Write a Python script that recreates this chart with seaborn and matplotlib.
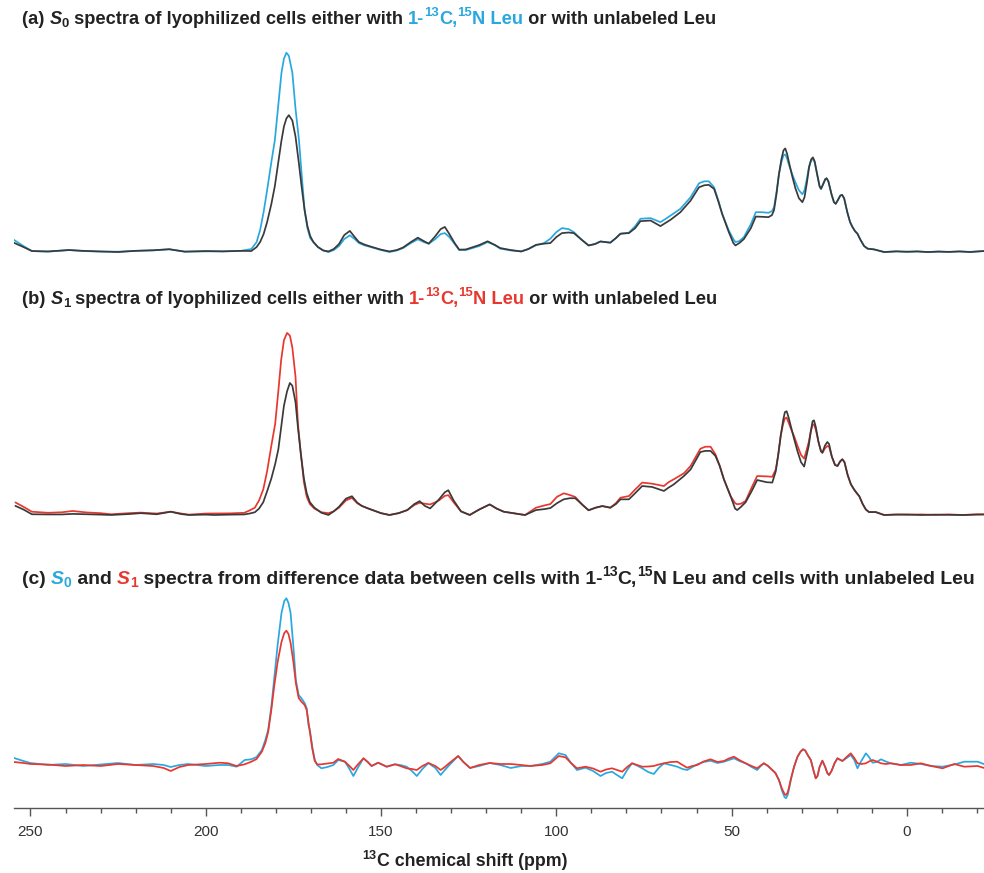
import numpy as np
import pandas as pd
import matplotlib
matplotlib.use("Agg")
import matplotlib.pyplot as plt
import seaborn as sns
from matplotlib import font_manager
from matplotlib.ticker import MultipleLocator

# ---------------- data ----------------
# Panel (a): S0 spectra, 1-13C,15N Leu (blue) vs unlabeled Leu (black); relative intensity
ppm_a = [254.8, 252, 249.6, 245, 239, 235, 230, 225, 220, 215,
         210.4, 206, 200, 195, 190, 187, 185.5, 184.5, 183.5, 182.5,
         181.3, 180.3, 179.3, 178.4, 177.7, 177.0, 176.3, 175.3, 174.4, 173.4,
         172.6, 171.8, 171.0, 170.2, 169.3, 168, 166.5, 165, 163.5, 162,
         160.5, 158.9, 157.5, 156.3, 154.8, 152.9, 150, 147.6, 145.5, 143.7,
         141.5, 139.5, 137.8, 136.4, 134.5, 133, 131.8, 130.5, 129, 127.7,
         125.8, 122, 119.6, 117.5, 116, 113, 110, 108, 105.8, 103.5,
         101.7, 100, 98.4, 96.5, 95, 93, 90.8, 89, 87.4, 84.6,
         83, 81.7, 79.3, 77.5, 76, 73.1, 70.3, 68.5, 67.4, 64.6,
         61.7, 59.3, 57.8, 56.5, 55, 53.8, 52.7, 50.8, 49.5, 48.9,
         47.8, 46.5, 44.5, 43.1, 41.5, 39.5, 38.5, 37.9, 37.2, 36.5,
         35.8, 35.2, 34.7, 34.2, 33.5, 32.7, 31.8, 30.8, 29.8, 29.2,
         28.5, 27.9, 27.3, 26.8, 26.3, 25.6, 24.9, 24.5, 23.9, 23.3,
         22.9, 22.4, 21.5, 20.8, 20.3, 19.7, 19, 18.5, 17.9, 17,
         16.2, 15.5, 14.8, 14.1, 13.2, 12.2, 11.2, 9.3, 6.5, 3,
         0, -3, -6, -9, -12, -15, -18, -22]
s0_lab_a = [6.2, 3, 0.5, 0.2, 1.0, 0.5, 0.2, 0.2, 0.6, 0.8,
            1.4, 0.2, 0.3, 0.4, 0.6, 1.5, 5, 11, 20, 31,
            45, 56, 74, 90, 97, 100, 98.5, 90, 72, 56,
            38, 21, 12, 7, 5, 2.5, 0.8, 0, 1, 3,
            6.5, 8.4, 6.5, 4.5, 3.4, 2.5, 1, 0, 0.8, 2,
            4.5, 6.4, 5, 4.2, 6.5, 9, 9.5, 7.5, 4, 1,
            1, 3, 5, 3.5, 1.7, 0.8, 0.3, 1.5, 3.4, 4.5,
            6.7, 10, 12, 11.5, 10, 6.5, 3.3, 4, 5.3, 4.7,
            7, 9.2, 9.7, 13, 16.7, 17, 15, 17, 18.3, 21.7,
            27.5, 34.5, 35.5, 35.5, 32.5, 26, 19.2, 10.8, 6.5, 5,
            5.5, 7.5, 14, 20, 20, 19.7, 20.5, 22.5, 30, 39,
            45, 48.5, 49, 47, 43, 39, 35, 31, 29, 31,
            37, 43, 46, 46.7, 45, 39, 33, 31.7, 34, 36.5,
            37, 35.5, 29, 25, 24.2, 26, 28.3, 28.7, 27, 20,
            15, 12.5, 10.5, 9.2, 6, 3, 1.7, 1.3, 0, 0.4,
            0, 0.3, 0, 0.3, 0, 0.3, 0.1, 0.5]
s0_unl_a = [4.7, 2.5, 0.5, 0.3, 1.0, 0.6, 0.3, 0.0, 0.6, 0.9,
            1.4, 0.2, 0.5, 0.3, 0.6, 0.5, 2.5, 5, 9, 15,
            24, 33, 45, 56, 63, 67, 68.7, 66, 58, 44,
            32, 21, 13, 8, 5, 2.5, 0.8, 0.3, 1.5, 4,
            8.5, 10.6, 7.5, 5, 3.8, 2.7, 1.2, 0.3, 1, 2.3,
            5, 7.2, 5.5, 4.2, 8, 11.5, 12.6, 9, 4.5, 1.2,
            1.3, 3.5, 5.4, 3.5, 2, 1, 0.3, 1.5, 3.6, 4.2,
            4.5, 7.5, 9.5, 9.8, 9.5, 6.5, 3.3, 4, 5.3, 4.7,
            7, 9.2, 9.5, 12, 15.5, 15.8, 13, 15, 16.2, 20,
            25.8, 32.5, 33.5, 33.7, 31.7, 25.5, 19.2, 10, 4.5, 3.3,
            4.5, 6.5, 12, 17.8, 17.7, 17.5, 18.5, 21, 29, 39,
            46.5, 51, 52, 49.5, 44, 38, 32, 27, 25, 27.5,
            35, 42.5, 46.5, 47.5, 45.5, 39, 33, 31.7, 34, 36.5,
            37, 35.5, 29, 25, 24.2, 26, 28.3, 28.7, 27, 20,
            15, 12.5, 10.5, 9.2, 6, 3, 1.7, 1.3, 0, 0.3,
            0.2, 0.3, 0, 0.2, 0.1, 0.3, 0, 0.5]

# Panel (b): S1 spectra, 1-13C,15N Leu (red) vs unlabeled Leu (black)
ppm_b = [254.3, 252, 249.6, 245, 241, 238, 234, 230, 227, 222,
         218.5, 214, 210, 207, 204.8, 200, 197.6, 193, 189, 187.5,
         186, 184.8, 183.6, 182.5, 181.3, 180.2, 179.3, 178.5, 177.7, 176.8,
         176.0, 175.3, 174.4, 173.7, 172.9, 172, 171.2, 170.3, 169, 167,
         165, 163.5, 162, 160, 158.3, 156.8, 155.5, 153.7, 150, 147.6,
         145, 142.5, 140.5, 139, 137.5, 136, 134.5, 133.5, 131.8, 130.8,
         129.3, 127.2, 124.7, 122, 119, 117, 115, 110, 108.9, 105.8,
         103.5, 101.7, 99.8, 97.9, 96.2, 94.6, 92.5, 90.8, 88.8, 86.9,
         84.6, 83, 81.7, 79.3, 77.5, 75.5, 72.7, 69.3, 68, 66.5,
         63.6, 61.7, 58.9, 57.5, 56, 54.6, 53.4, 52.2, 50.3, 49,
         48.4, 47.3, 46, 44.3, 42.7, 40, 38.4, 37.4, 36.7, 36,
         35.3, 34.8, 34.3, 33.8, 33, 32.2, 31.2, 30.2, 29.3, 28.7,
         28, 27.4, 26.9, 26.5, 26, 25.2, 24.5, 24.1, 23.4, 22.7,
         22.2, 21.4, 20.5, 19.8, 19, 18.4, 17.8, 16.9, 16, 15.1,
         14.3, 13.6, 12.6, 11.7, 10.8, 8.9, 6.5, 3, 0, -4,
         -8, -12, -16, -20, -22]
s1_lab_b = [6.9, 4.5, 1.8, 1.2, 1.5, 2.2, 1.4, 1.0, 0.4, 1.0,
            1.3, 0.8, 1.8, 0.8, 0.2, 0.8, 0.8, 0.9, 1.2, 2.5,
            4, 8, 14, 24, 38, 50, 68, 85, 96, 100,
            98.5, 92, 76, 50, 34, 18, 10, 6, 3.5, 1.5,
            1, 2, 4, 8, 9.4, 6.5, 5, 3.6, 1, 0,
            1, 2.7, 5.5, 6.7, 6.2, 5.8, 7, 8, 10.5, 10.9,
            7, 2, 0, 3, 5.8, 3.5, 1.8, 0.3, 0, 4,
            5.2, 6, 10, 11.9, 11, 9.9, 5.5, 2.6, 4, 4.9,
            4, 6.5, 9.5, 10.4, 14, 17.8, 17.2, 15.9, 18, 19.6,
            22.9, 26.9, 36.4, 37.5, 37.5, 33.3, 27, 19.6, 10.4, 6.5,
            5.9, 6.2, 7.7, 15, 21.4, 21.2, 21, 25, 33, 43.4,
            50, 53, 53.5, 51, 47, 43.4, 38, 33, 31, 35,
            40, 46, 49.5, 49.8, 47, 40, 35, 34.2, 36.5, 37.9,
            37.5, 32, 27.5, 26.9, 29.5, 30.6, 29, 22, 17, 14.1,
            12, 10.4, 6, 3, 1.6, 1.6, 0, 0.3, 0.1, 0.3,
            0, 0.3, 0, 0.4, 0.3]
s1_unl_b = [5, 3, 0.4, 0.3, 0.3, 0.6, 0.4, 0.2, 0, 0.5,
            1.0, 0.4, 1.8, 0.5, 0, 0.2, 0, 0.2, 0.3, 0.8,
            1.5, 3.5, 7, 13, 20, 28, 36, 48, 60, 68,
            72.5, 71, 62, 48, 34, 20, 12, 7, 4, 1.2,
            0, 2, 4.5, 9, 10.3, 6.8, 5, 3.6, 1, 0,
            1, 2.7, 6, 7.6, 5, 3.6, 6.5, 8.5, 12.5, 13.6,
            8, 2, 0, 3, 5.8, 3.5, 1.8, 0.3, 0, 2.7,
            3.2, 3.8, 6.5, 8.6, 9.2, 9.2, 5.5, 2.6, 4, 4.9,
            4, 6, 8.6, 8.6, 12, 15.9, 15.4, 13.2, 15, 16.8,
            21.4, 25, 34.6, 35.2, 35.2, 32.4, 27, 19.6, 10.4, 3.5,
            2.7, 4.5, 7, 13, 19.2, 18, 17.8, 24, 33, 43.4,
            52, 56.5, 57, 54, 48, 42, 35, 29, 26.6, 32,
            38, 46, 51.5, 52, 48.5, 40, 35, 34.2, 38, 40.1,
            39, 32, 27.5, 26.9, 29.5, 30.6, 29, 22, 17, 14.1,
            12, 10.4, 6, 3, 1.6, 1.6, 0, 0.2, 0.3, 0,
            0.2, 0.1, 0, 0.2, 0.3]

# Panel (c): S0 (blue) and S1 (red) spectra from difference data
ppm_c = [254.7, 252, 250, 245, 240, 235, 230, 225, 220, 215,
         212, 210, 207.5, 205, 200, 196, 193.6, 191.2, 188.9, 187,
         185.5, 184, 183, 182.2, 181.3, 180.5, 179.5, 178.4, 177.6, 177,
         176.4, 175.8, 175, 174.3, 173.5, 172.7, 171.8, 171.2, 170.7, 170.3,
         169.6, 168.9, 168.2, 167, 165.3, 163.6, 162.2, 160.3, 159, 157.9,
         156.5, 155, 153.8, 152.7, 150.8, 148.4, 146, 144.5, 142.7, 141.2,
         139.8, 138.2, 136.5, 134.5, 133, 131.8, 130.5, 128, 126.5, 124.6,
         122, 119, 116, 113, 110, 107.4, 104, 101.7, 99.3, 97.4,
         95.8, 94.1, 91.7, 89.5, 87.4, 85.8, 84.1, 82.7, 81.2, 79.8,
         78.4, 77, 75.5, 73.8, 72.2, 70.8, 69.3, 67.4, 65.5, 64,
         62.7, 61.2, 59.8, 58, 56, 54, 52.2, 50.8, 49.3, 47.8,
         46, 44.3, 42.7, 41.7, 40.8, 39.6, 38.4, 37.5, 36.5, 35.6,
         34.9, 34.5, 34, 33.6, 33.1, 32.2, 31.2, 30.3, 29.6, 29,
         28.3, 27.4, 26.6, 26, 25.5, 24.9, 24.1, 23.3, 22.7, 22.2,
         21.5, 20.6, 19.8, 18.4, 17.2, 16, 15, 14.1, 13, 11.7,
         10.8, 9.8, 8.6, 7.4, 6, 4.6, 1.7, -1.1, -4, -6.9,
         -10.2, -13.5, -16.4, -20.2, -22.3]
s0_diff = [7, 4, 2, 0, 1, -1, 0.5, 2, 0, 1,
           0, -2, 0, 1, -1, 0, 0, -1.7, 5, 5.7,
           8, 15, 25, 35, 58, 85, 120, 152, 164, 166.7,
           162, 152, 118, 85, 70, 66.7, 62, 56.7, 40, 35,
           18, 5, 0, -3.3, -2, 0, 5, 3.3, -4, -11,
           -2, 6.7, 3, -1, 2.3, -1.7, 0.7, 0, -1.7, -6,
           -11, -4, 2, -3, -10, -5, 0, 9, 3, -3,
           -1, 2, 0, -3, -1, -1, 1, 3.3, 11.7, 10,
           2, -5, -2.7, -6, -11, -8, -6.7, -10, -13.3, -5,
           1.7, -0.5, -3.3, -7, -9, -3, 1.7, 0, -1.7, -4,
           -5, -2, 0.7, 3, 4.3, 2, 3.3, 5, 6.7, 4,
           1.7, -2, -5, -1, 1.7, -1, -5, -8, -15, -26,
           -32, -33.3, -30, -24, -15, -2, 8.3, 13.5, 15.7, 14.5,
           10, 5, -6, -13.3, -11, -2, 4.3, -2, -8, -10,
           -6, 2, 6.7, 4, 7, 10, 5, -3.3, 4, 11.7,
           8, 2.3, 3, 5.7, 3.5, 1.7, 0, 2.3, 1, -1,
           -1.7, 0.5, 3.3, 3.3, 0.5]
s1_diff = [3, 2, 1, 0.5, -1, 0, -1, 1, 0, -1,
           -3, -6, -2, 0, 1, 2.3, 1.7, -1, 0.7, 3.3,
           6, 13.3, 22, 33, 55, 78, 103, 123, 132, 134.3,
           131, 122, 103, 82, 67, 63.3, 60, 55, 42, 33,
           16, 4, 0.5, 0.7, 1.5, 2.3, 6, 3.3, -1, -5,
           1, 6.7, 3, -1, 2.3, -1.7, 0.7, -1, -3.3, -4,
           -5, -1, 2, -1, -5, -2, 2, 9, 3, -3,
           0, 2, 1, 1, 0, -1, 0, 1.7, 9, 7.7,
           2, -3.3, -1.7, -3.5, -6.7, -4.5, -3.3, -5, -6.7, -2,
           1.7, 0, -1.7, -1.5, -1, 0.5, 1.7, 3, 3.3, 0,
           -2.7, -1, 0, 3.5, 5.7, 3, 4, 6.5, 8.3, 5,
           1.7, -1, -3.3, -0.5, 1.7, -1, -5, -8, -15, -24,
           -29, -30, -27.5, -22, -14, -2, 8.3, 13.5, 15.7, 14.5,
           10, 5, -6, -13.3, -11, -2, 4.3, -2, -8, -10,
           -6, 2, 6.7, 4, 8, 11.7, 7, 1.7, 1, 1.7,
           3.5, 5, 3.5, 1.7, 1, 1.7, 0, 0, 1.7, -1,
           -3.3, 1, -1.7, -1, -3.3]

major_ticks = [250, 200, 150, 100, 50, 0]

# ---------------- style ----------------
sns.set_theme(style="white")
names = {f.name for f in font_manager.fontManager.ttflist}
FAM = "Liberation Sans Narrow" if "Liberation Sans Narrow" in names else "Liberation Sans"
plt.rcParams["font.family"] = [FAM, "DejaVu Sans"]

BLUE = "#29A8E0"
RED = "#E8372F"
BLACK = "#3A3A3A"
LW = 1.25

W, H = 984, 873
fig = plt.figure(figsize=(W / 100, H / 100), dpi=100)

XL = (254.7, -22.0)
left = 14 / W


def make_ax(top_px, bot_px, ylim):
    ax = fig.add_axes([left, 1 - bot_px / H, 1 - left, (bot_px - top_px) / H])
    ax.set_facecolor("none")
    for s in ax.spines.values():
        s.set_visible(False)
    ax._ylim_target = ylim
    return ax


ax_a = make_ax(40, 262, (-5.0, 106.4))
ax_b = make_ax(320, 525, (-5.5, 107.1))
ax_c = make_ax(585, 808, (-43, 180))

da = pd.DataFrame({"ppm": ppm_a, "lab": s0_lab_a, "unl": s0_unl_a})
db = pd.DataFrame({"ppm": ppm_b, "lab": s1_lab_b, "unl": s1_unl_b})
dc = pd.DataFrame({"ppm": ppm_c, "s0": s0_diff, "s1": s1_diff})

sns.lineplot(data=da, x="ppm", y="lab", ax=ax_a, color=BLUE, lw=LW, estimator=None)
sns.lineplot(data=da, x="ppm", y="unl", ax=ax_a, color=BLACK, lw=LW, estimator=None)
sns.lineplot(data=db, x="ppm", y="lab", ax=ax_b, color=RED, lw=LW, estimator=None)
sns.lineplot(data=db, x="ppm", y="unl", ax=ax_b, color=BLACK, lw=LW, estimator=None)
sns.lineplot(data=dc, x="ppm", y="s0", ax=ax_c, color=BLUE, lw=LW, estimator=None)
sns.lineplot(data=dc, x="ppm", y="s1", ax=ax_c, color=RED, lw=LW, estimator=None)

for ax in (ax_a, ax_b, ax_c):
    ax.set_xlim(*XL)
    ax.set_ylim(*ax._ylim_target)
    ax.set_xlabel("")
    ax.set_ylabel("")
    ax.set_yticks([])
    ax.set_xticks([])

# bottom axis on panel c
ax_c.spines["bottom"].set_visible(True)
ax_c.spines["bottom"].set_color("#555555")
ax_c.spines["bottom"].set_linewidth(1.0)
ax_c.set_xticks(major_ticks)
ax_c.set_xticklabels([str(t) for t in major_ticks])
ax_c.xaxis.set_minor_locator(MultipleLocator(10))
ax_c.tick_params(axis="x", which="major", direction="out", length=6, width=1.0,
                 color="#555555", labelsize=11, labelcolor="#333333", pad=6, bottom=True)
ax_c.tick_params(axis="x", which="minor", direction="out", length=3.5, width=1.0,
                 color="#555555", bottom=True)

# ---------------- rich titles ----------------
renderer = fig.canvas.get_renderer()


def text_width(s, **kw):
    t = fig.text(0, 0, s + "|", **kw)
    t2 = fig.text(0, 0, "|", **kw)
    w = t.get_window_extent(renderer).width - t2.get_window_extent(renderer).width
    t.remove()
    t2.remove()
    return w


def piece_kw(color, style, kind, size):
    fs = size * (0.72 if kind in ("sup", "sub") else 1.0)
    return dict(color=color, fontsize=fs, fontweight="bold", fontstyle=style,
                family=[FAM, "DejaVu Sans"], va="baseline", ha="left")


def rich_width(pieces, size):
    return sum(text_width(t, **piece_kw(c, s, k, size)) for t, c, s, k in pieces)


def rich(x_px, y_px, pieces, size):
    x = x_px
    for txt, color, style, kind in pieces:
        dy = 0.0
        if kind == "sup":
            dy = 0.42 * size * 100 / 72
        elif kind == "sub":
            dy = -0.18 * size * 100 / 72
        kw = piece_kw(color, style, kind, size)
        fig.text(x / W, 1 - (y_px - dy) / H, txt, **kw)
        x += text_width(txt, **kw)


K = "#222222"
title_a = [
    ("(a) ", K, "normal", ""), ("S", K, "italic", ""), ("0", K, "normal", "sub"),
    (" spectra of lyophilized cells either with ", K, "normal", ""),
    ("1-", BLUE, "normal", ""), ("13", BLUE, "normal", "sup"), ("C,", BLUE, "normal", ""),
    ("15", BLUE, "normal", "sup"), ("N Leu", BLUE, "normal", ""),
    (" or with unlabeled Leu", K, "normal", ""),
]
title_b = [
    ("(b) ", K, "normal", ""), ("S", K, "italic", ""), ("1", K, "normal", "sub"),
    (" spectra of lyophilized cells either with ", K, "normal", ""),
    ("1-", RED, "normal", ""), ("13", RED, "normal", "sup"), ("C,", RED, "normal", ""),
    ("15", RED, "normal", "sup"), ("N Leu", RED, "normal", ""),
    (" or with unlabeled Leu", K, "normal", ""),
]
title_c = [
    ("(c) ", K, "normal", ""), ("S", BLUE, "italic", ""), ("0", BLUE, "normal", "sub"),
    (" and ", K, "normal", ""), ("S", RED, "italic", ""), ("1", RED, "normal", "sub"),
    (" spectra from difference data between cells with 1-", K, "normal", ""),
    ("13", K, "normal", "sup"), ("C,", K, "normal", ""), ("15", K, "normal", "sup"),
    ("N Leu and cells with unlabeled Leu", K, "normal", ""),
]

# fit title sizes to the widths seen in the reference
sa = 12.5 * 696 / rich_width(title_a, 12.5)
sc = 12.5 * 958 / rich_width(title_c, 12.5)
rich(22, 24, title_a, sa)
rich(22, 304, title_b, sa)
rich(22, 584, title_c, sc)

# x-axis label
xl_pieces = [("13", K, "normal", "sup"), ("C chemical shift (ppm)", K, "normal", "")]
sx = 12.5 * 206 / rich_width(xl_pieces, 12.5)
tot = rich_width(xl_pieces, sx)
rich(465 - tot / 2, 866, xl_pieces, sx)

fig.savefig("out.png", dpi=100)
